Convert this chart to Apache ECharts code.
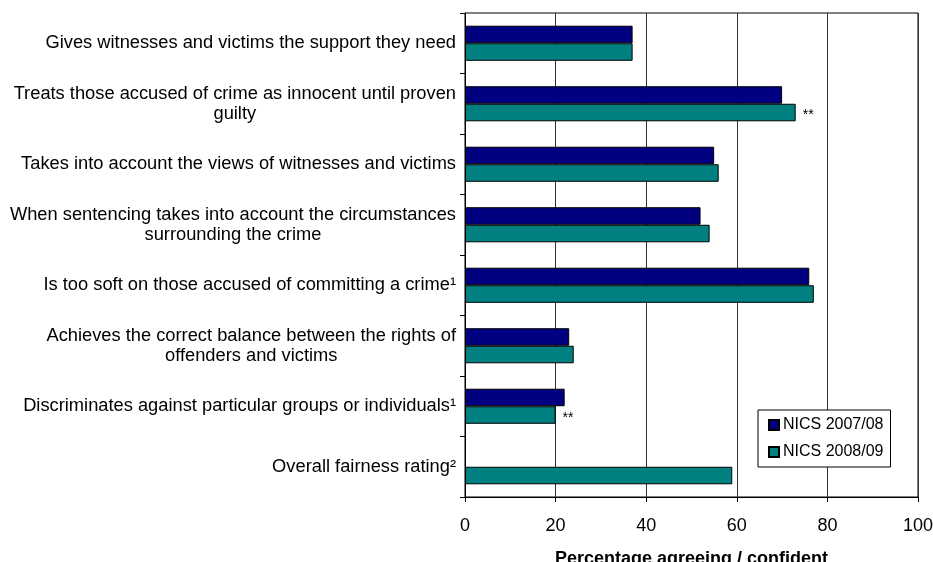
<!DOCTYPE html>
<html>
<head>
<meta charset="utf-8">
<script src="https://cdn.jsdelivr.net/npm/echarts@6/dist/echarts.min.js"></script>
<style>html,body{margin:0;padding:0;background:#fff}#c{width:933px;height:562px}</style>
</head>
<body>
<div id="c"></div>
<script>
const categories = [
  "Gives witnesses and victims the support they need",
  "Treats those accused of crime as innocent until proven\nguilty",
  "Takes into account the views of witnesses and victims",
  "When sentencing takes into account the circumstances\nsurrounding the crime",
  "Is too soft on those accused of committing a crime\u00b9",
  "Achieves the correct balance between the rights of\noffenders and victims",
  "Discriminates against particular groups or individuals\u00b9",
  "Overall fairness rating\u00b2"
];
const seriesNames = ["NICS 2007/08", "NICS 2008/09"];
const values2007 = [37, 70, 55, 52, 76, 23, 22, null];
const values2008 = [37, 73, 56, 54, 77, 24, 20, 59];
const significant2008 = [false, true, false, false, false, false, true, false];
const xTicks = [0, 20, 40, 60, 80, 100];
const axisTitle = "Percentage agreeing / confident";

const FONT = "'Liberation Sans', Arial, sans-serif";
const chart = echarts.init(document.getElementById('c'), null, {renderer: 'canvas'});

const data2008 = values2008.map((v, i) => significant2008[i] ? {
  value: v,
  label: {show: true, position: 'right', distance: 7, formatter: '**', color: '#000', fontSize: 14, fontFamily: FONT, offset: [0, 3]}
} : v);

chart.setOption({
  animation: false,
  backgroundColor: '#fff',
  grid: {left: 465, right: 15, top: 13, bottom: 65, show: true, borderColor: '#000', borderWidth: 1,
         backgroundColor: 'transparent', containLabel: false, outerBoundsMode: 'none'},
  legend: {
    data: seriesNames,
    orient: 'vertical',
    left: 758, top: 410,
    padding: [7, 7, 7, 10],
    itemWidth: 10, itemHeight: 10, itemGap: 11,
    backgroundColor: '#fff',
    borderColor: '#000', borderWidth: 1,
    textStyle: {fontSize: 16, fontFamily: FONT, color: '#000', padding: [0, 0, 0, -1]},
    icon: 'rect'
  },
  xAxis: {
    type: 'value', min: xTicks[0], max: xTicks[xTicks.length - 1], interval: 20,
    name: axisTitle, nameLocation: 'middle', nameGap: 53,
    nameTextStyle: {fontSize: 18, fontWeight: 'bold', fontFamily: FONT, color: '#000'},
    axisLine: {show: true, lineStyle: {color: '#000', width: 1}},
    axisTick: {show: true, length: 5, lineStyle: {color: '#000'}},
    axisLabel: {fontSize: 18, fontFamily: FONT, color: '#000', margin: 20},
    splitLine: {show: true, lineStyle: {color: '#333', width: 1}}
  },
  yAxis: {
    type: 'category', data: categories, inverse: true,
    axisLine: {show: true, lineStyle: {color: '#000', width: 1}},
    axisTick: {show: true, length: 5, lineStyle: {color: '#000'}},
    axisLabel: {
      fontSize: 18.3, fontFamily: FONT, color: '#000', margin: 9, align: 'right',
      formatter: v => v.split('\n').map(s => '{c|' + s + '}').join('\n'),
      rich: {c: {align: 'center', fontSize: 18.3, fontFamily: FONT, color: '#000', lineHeight: 20}}
    },
    splitLine: {show: false}
  },
  series: [
    {name: seriesNames[0], type: 'bar', data: values2007, barGap: '0%', barCategoryGap: '42%',
     itemStyle: {color: '#000080', borderColor: '#000', borderWidth: 1}},
    {name: seriesNames[1], type: 'bar', data: data2008, barGap: '0%', barCategoryGap: '42%',
     itemStyle: {color: '#008080', borderColor: '#000', borderWidth: 1}}
  ]
});
</script>
</body>
</html>
